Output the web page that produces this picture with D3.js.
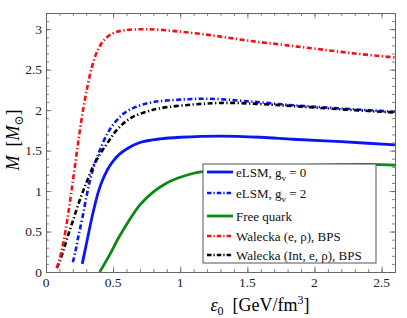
<!DOCTYPE html>
<html>
<head>
  <script src="https://d3js.org/d3.v7.min.js"></script>
  <style>
    body { margin: 0; background: #fff; }
    .tick-label { font-size: 13.5px; fill: #222; }
    .leg-text { font-size: 13px; fill: #111; }
  </style>
</head>
<body>
  <svg width="407" height="318" font-family="'Liberation Serif', 'DejaVu Serif', 'Times New Roman', serif"></svg>

  <script>
    // [energy density (GeV/fm^3), mass (M_sun)]
    const elsm0 = [[0.27,0.10],[0.30,0.34],[0.33,0.58],[0.36,0.80],[0.39,0.99],[0.42,1.13],[0.46,1.27],
      [0.50,1.37],[0.55,1.46],[0.61,1.53],[0.70,1.60],[0.85,1.645],[1.0,1.665],[1.3,1.68],[1.6,1.665],
      [1.84,1.64],[2.2,1.61],[2.6,1.57]];
    const elsm2 = [[0.20,0.12],[0.22,0.26],[0.24,0.43],[0.27,0.66],[0.30,0.92],[0.33,1.15],[0.36,1.32],
      [0.40,1.50],[0.46,1.72],[0.52,1.86],[0.58,1.96],[0.67,2.04],[0.80,2.10],[1.0,2.13],[1.22,2.14],
      [1.5,2.11],[1.84,2.06],[2.2,2.02],[2.6,1.98]];
    const freeQuark = [[0.40,0.0],[0.47,0.20],[0.54,0.42],[0.62,0.64],[0.70,0.83],[0.80,0.99],[0.90,1.10],
      [1.0,1.17],[1.1,1.22],[1.25,1.26],[1.5,1.29],[2.0,1.32],[2.4,1.33],[2.6,1.32]];
    const waleckaBPS = [[0.08,0.05],[0.10,0.15],[0.13,0.37],[0.16,0.66],[0.19,1.00],[0.22,1.36],[0.25,1.72],
      [0.28,2.04],[0.31,2.30],[0.34,2.52],[0.38,2.72],[0.43,2.86],[0.50,2.95],[0.58,2.985],[0.75,3.00],
      [1.0,2.97],[1.25,2.92],[1.5,2.86],[1.75,2.81],[2.0,2.76],[2.3,2.70],[2.6,2.65]];
    const waleckaIntBPS = [[0.08,0.05],[0.10,0.12],[0.13,0.27],[0.16,0.43],[0.20,0.63],[0.25,0.88],[0.30,1.10],
      [0.35,1.30],[0.40,1.45],[0.46,1.60],[0.52,1.74],[0.58,1.84],[0.65,1.92],[0.75,1.98],[0.84,2.02],
      [1.1,2.07],[1.35,2.09],[1.6,2.075],[1.84,2.05],[2.2,2.01],[2.6,1.97]];

    const xTicks = [0, 0.5, 1, 1.5, 2, 2.5];
    const xTickLabels = ["0", "0.5", "1", "1.5", "2", "2.5"];
    const yTicks = [0, 0.5, 1, 1.5, 2, 2.5, 3];
    const yTickLabels = ["0", "0.5", "1", "1.5", "2", "2.5", "3"];

    const dotDash = "5,2.5,1.3,2.5";
    const series = [
      { name: "eLSM, g", sub: "v", tail: " = 0", data: elsm0, color: "#0a14f5", dash: null },
      { name: "eLSM, g", sub: "v", tail: " = 2", data: elsm2, color: "#0a14f5", dash: dotDash },
      { name: "Free quark", data: freeQuark, color: "#0a8a10", dash: null },
      { name: "Walecka (e, ρ), BPS", data: waleckaBPS, color: "#f51010", dash: dotDash },
      { name: "Walecka (Int, e, ρ), BPS", data: waleckaIntBPS, color: "#000", dash: dotDash }
    ];

    const svg = d3.select("svg");
    const serif = "'Liberation Serif', 'DejaVu Serif', 'Times New Roman', serif";
    const margin = { top: 13, right: 12, bottom: 46, left: 46 };
    const width = 407 - margin.left - margin.right;
    const height = 318 - margin.top - margin.bottom;

    const x = d3.scaleLinear().domain([0, 2.6]).range([0, width]);
    const y = d3.scaleLinear().domain([0, 3.2]).range([height, 0]);

    const chart = svg.append("g").attr("transform", `translate(${margin.left},${margin.top})`);

    chart.append("clipPath").attr("id", "clip")
      .append("rect").attr("width", width).attr("height", height);

    const line = d3.line()
      .x(d => x(d[0]))
      .y(d => y(d[1]))
      .curve(d3.curveCatmullRom.alpha(0.5));

    const curves = chart.append("g").attr("clip-path", "url(#clip)");
    // draw order: green first, then others
    [2, 0, 1, 4, 3].forEach(i => {
      const s = series[i];
      curves.append("path")
        .datum(s.data)
        .attr("d", line)
        .attr("fill", "none")
        .attr("stroke", s.color)
        .attr("stroke-width", s.dash ? 2.6 : 2.8)
        .attr("stroke-dasharray", s.dash);
    });

    // frame with inward ticks on all sides
    const frameColor = "#666";
    const minorX = d3.range(0, 2.61, 0.1);
    const minorY = d3.range(0, 3.21, 0.1);

    function tickAxis(axisFn, scale, major, minor, transform) {
      const gMinor = chart.append("g").attr("transform", transform)
        .call(axisFn(scale).tickValues(minor).tickSize(-3).tickFormat(""));
      const gMajor = chart.append("g").attr("transform", transform)
        .call(axisFn(scale).tickValues(major).tickSize(-5.5).tickFormat(""));
      [gMinor, gMajor].forEach(g => {
        g.selectAll("line").attr("stroke", frameColor).attr("stroke-width", 0.8);
        g.select(".domain").attr("stroke", frameColor).attr("stroke-width", 1);
      });
    }
    tickAxis(d3.axisBottom, x, xTicks, minorX, `translate(0,${height})`);
    tickAxis(d3.axisTop, x, xTicks, minorX, "translate(0,0)");
    tickAxis(d3.axisLeft, y, yTicks, minorY, "translate(0,0)");
    tickAxis(d3.axisRight, y, yTicks, minorY, `translate(${width},0)`);

    // tick labels
    chart.selectAll(".xlab").data(xTicks).enter().append("text")
      .attr("class", "tick-label")
      .attr("font-family", serif)
      .attr("x", d => x(d)).attr("y", height + 15)
      .attr("text-anchor", "middle")
      .text((d, i) => xTickLabels[i]);
    chart.selectAll(".ylab").data(yTicks).enter().append("text")
      .attr("class", "tick-label")
      .attr("font-family", serif)
      .attr("x", -4).attr("y", d => y(d) + 4.5)
      .attr("text-anchor", "end")
      .text((d, i) => yTickLabels[i]);

    // axis titles
    const xt = svg.append("text")
      .attr("font-family", serif)
      .attr("x", 260).attr("y", 311)
      .attr("text-anchor", "middle")
      .style("font-size", "18px");
    xt.append("tspan").style("font-style", "italic").text("ε");
    xt.append("tspan").attr("dy", 4).style("font-size", "12px").text("0");
    xt.append("tspan").attr("dy", -4).text("\u2002[GeV/fm");
    xt.append("tspan").attr("dy", -7).style("font-size", "12px").text("3");
    xt.append("tspan").attr("dy", 7).text("]");

    const yt = svg.append("text")
      .attr("font-family", serif)
      .attr("transform", "translate(19,140) rotate(-90)")
      .attr("text-anchor", "middle")
      .style("font-size", "18px");
    yt.append("tspan").style("font-style", "italic").text("M");
    yt.append("tspan").text("\u2002[");
    yt.append("tspan").style("font-style", "italic").text("M");
    yt.append("tspan").attr("dy", 4).style("font-size", "12px").text("⊙");
    yt.append("tspan").attr("dy", -4).text("]");

    // legend
    const legX = 203, legY = 164, legW = 173, legH = 99;
    const legend = svg.append("g");
    legend.append("rect")
      .attr("x", legX).attr("y", legY).attr("width", legW).attr("height", legH)
      .attr("fill", "#fff").attr("stroke", "#555").attr("stroke-width", 1);
    const rowY = [172, 193, 216, 236, 255];
    series.forEach((s, i) => {
      const ry = rowY[i];
      legend.append("line")
        .attr("x1", legX + 4).attr("x2", legX + 30)
        .attr("y1", ry).attr("y2", ry)
        .attr("stroke", s.color)
        .attr("stroke-width", s.dash ? 2.4 : 2.8)
        .attr("stroke-dasharray", s.dash ? "4.5,2,1.3,2" : null);
      const t = legend.append("text").attr("class", "leg-text")
        .attr("font-family", serif)
        .attr("x", legX + 33).attr("y", ry + 4.5);
      t.append("tspan").text(s.name);
      if (s.sub) {
        t.append("tspan").attr("dy", 4).style("font-size", "9px").text(s.sub);
        t.append("tspan").attr("dy", -4).text(s.tail);
      }
    });
  </script>
</body>
</html>
